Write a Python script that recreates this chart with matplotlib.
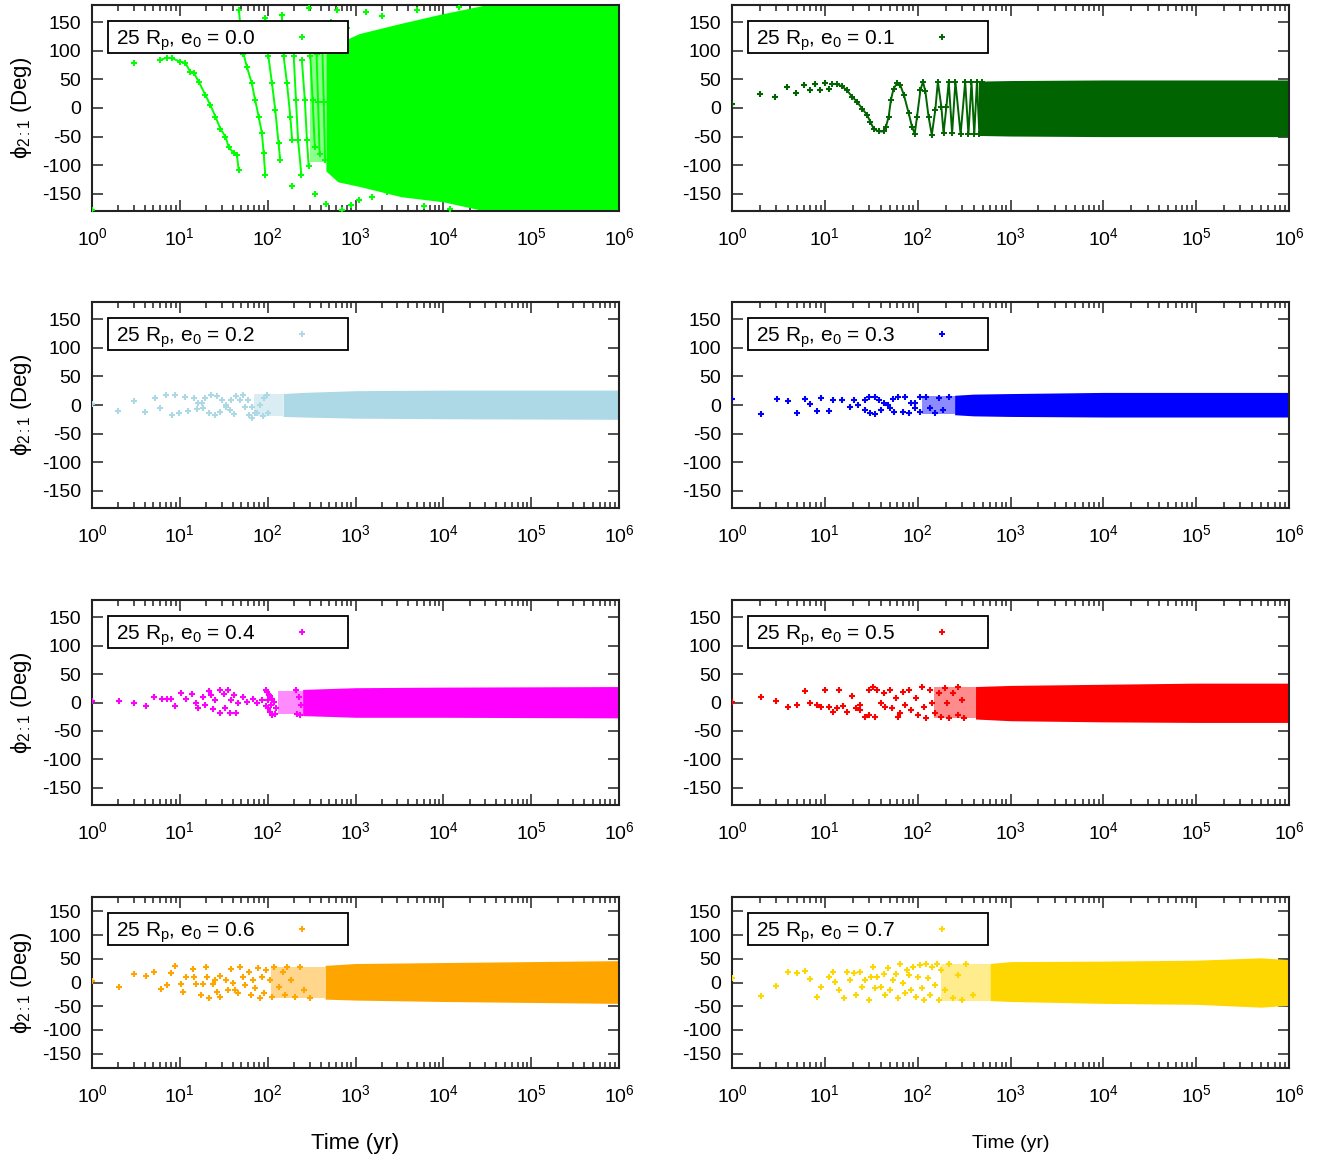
import numpy as np
import matplotlib
matplotlib.use('Agg')
import matplotlib.pyplot as plt
from matplotlib.ticker import LogLocator, NullFormatter, FixedLocator, FuncFormatter
from matplotlib.patches import Rectangle

plt.rcParams['font.family'] = ['Liberation Sans', 'DejaVu Sans']
plt.rcParams['mathtext.fontset'] = 'custom'
plt.rcParams['mathtext.rm'] = 'Liberation Sans'
plt.rcParams['mathtext.it'] = 'Liberation Sans'
plt.rcParams['mathtext.sf'] = 'Liberation Sans'
plt.rcParams['axes.unicode_minus'] = False

## ---- data ----
ecc = ['0.0', '0.1', '0.2', '0.3', '0.4', '0.5', '0.6', '0.7']
colors = ['#00ff00', '#006400', '#add8e6', '#0000ff',
          '#ff00ff', '#ff0000', '#ffa500', '#ffd700']
xticks = [1, 10, 100, 1e3, 1e4, 1e5, 1e6]
yticks = [-150, -100, -50, 0, 50, 100, 150]

# e0 = 0.0 : circulating
e00_t = [1, 3, 145, 294, 616, 1300, 190, 457, 700, 1085, 1540, 2270,
         800, 2000, 5000, 6000, 15000, 12000, 520, 350, 900]
e00_phi = [-178, 78, 162, 174, 171, 168, -137, -167, -178, -161, -155, -146,
           140, 160, 172, -172, 177, -176, 150, -150, -170]
e00_tracks_t = [[6, 7.1, 8.1, 10.1, 11.5, 13.2, 14.4, 16.4, 19.5, 22.3, 25.4, 28.9, 33, 36, 41, 44.6, 46.8],
                [47, 50, 53, 58, 66, 72, 79, 86, 90, 94],
                [94, 102, 112, 122, 133, 139],
                [145, 152, 166, 181, 190],
                [198, 210, 222, 242],
                [245, 265, 280, 293],
                [306, 325, 344],
                [360, 375, 390],
                [420, 435, 450]]
e00_tracks_phi = [[84, 88, 87, 81, 79, 63, 62, 46, 23, 5, -15, -36, -50, -68, -79, -82, -108],
                  [171, 130, 95, 72, 43, 14, -15, -44, -79, -117],
                  [157, 90, 43, -3, -62, -91],
                  [162, 90, 43, -15, -56],
                  [90, 14, -56, -117],
                  [84, 14, -56, -102],
                  [90, 14, -68],
                  [95, 10, -80],
                  [100, 10, -90]]
e00_band_t = [460, 630, 1100, 3300, 1e4, 3e4, 1e6]
e00_band_hi = [95, 113, 130, 148, 165, 180, 180]
e00_band_lo = [-110, -129, -137, -155, -164, -180, -180]
e00_mesh_t = [300, 460]
e00_mesh_amp = 95

# e0 = 0.1
e01_t = [1, 2.02, 2.93, 3.91, 4.94, 5.9, 6.9, 7.9, 8.9, 10.1, 11]
e01_phi = [7, 24.5, 18.6, 36, 27, 41, 31, 42, 31, 44, 33]
e01_tracks_t = [[11.9, 13.5, 15.3, 17.3, 19.6, 22.2, 25.2, 28.5, 30.9, 33.5, 38, 43, 45.5, 48.7,
                 51.5, 55, 60, 65, 71, 80, 87, 93, 98.5, 107, 114, 121, 131, 142, 155, 165,
                 180, 190, 204, 216, 235, 255, 290, 325, 352, 380, 407, 435, 462, 490]]
e01_tracks_phi = [[42, 42, 38, 31, 20, 11, -1, -12, -24, -36, -41, -41, -33, -15,
                   14, 34, 43, 40, 23, -9, -33, -45, -15, 31, 46, 29, -15, -47, -3, 46,
                   2, -44, 2, 46, -44, 46, -46, 46, -46, 46, -46, 46, -46, 46]]
e01_band_t = [450, 1000, 1e4, 1e6]
e01_band_hi = [47, 48, 49, 49]
e01_band_lo = [-48, -49, -50, -50]
e01_mesh_t = []
e01_mesh_amp = 0

# e0 = 0.2
e02_t = [1, 1.99, 3.0, 4.06, 5.2, 6.0, 7.0, 8.85, 8.1, 9.8, 11.5, 12.4, 14.4, 15.5, 18.1,
         16.2, 19.2, 22.7, 26.8, 29.9, 33.3, 37.3, 41.6, 18.2, 21.4, 25.3, 29, 33.3, 38.5, 44,
         49, 55, 61.6, 67, 72.6, 81, 90.6, 98, 52, 60, 67, 76, 88, 101]
e02_phi = [1, -10.5, 7.6, -11.6, 13, -5.8, 17.5, 17.5, -17.5, -14.6, 14.6, -10, 11.6, -7.6, 3,
           3, 11.6, 17.5, 15.7, 8.7, 0, -8.7, -15.7, -5.8, -13.4, -17.5, -11.6, -2.9, 8.7, 15.7,
           8.7, -4, -17.5, -23, -14.6, 0, 11.6, 17.5, 17.5, 8.7, -3, -13.4, -20, -14.6]
e02_band_t = [150, 250, 1000, 1e4, 1e6]
e02_band_hi = [20, 22, 25, 26, 26]
e02_band_lo = [-20, -21, -23, -24, -25]
e02_mesh_t = [70, 150]
e02_mesh_amp = 19

# e0 = 0.3
e03_t = [1, 2.03, 3.02, 4.0, 5.06, 6.1, 7.0, 8.2, 9.1, 11.1, 12.1, 15.4, 18.5, 20.5, 22.8,
         26.8, 29.6, 34.8, 38.7, 43, 50.4, 55.7, 26.8, 30.3, 34.8, 40.7, 47.7, 54.6, 62,
         72.8, 85.1, 94.7, 105, 69, 81, 94.7, 107, 123, 137, 152, 169, 188, 219]
e03_phi = [10, -15.7, 10, 6.4, -14.6, 11, 1.7, -10, 11.6, -10, 8.7, 8.7, -3, 8.7, 0,
           8.7, 13.4, 13.4, 8.7, 3, -5.8, -11.6, -8.7, -14.6, -15.7, -8.7, 0, 10, 14.6,
           13.4, 3, -5.8, -11.6, -11.6, -14.6, 3, 13.4, 14.6, -5.8, -14.6, 11.6, -8.7, 14.6]
e03_band_t = [250, 400, 1000, 1e4, 1e6]
e03_band_hi = [17, 19, 20, 22, 22]
e03_band_lo = [-17, -19, -20, -21, -21]
e03_mesh_t = [110, 250]
e03_mesh_amp = 15

# e0 = 0.4
e04_t = [1, 2.03, 3.02, 4.08, 5.1, 6.2, 7.1, 7.9, 8.8, 10.2, 11.7, 13.8, 15.4, 16.2, 18.2,
         19.2, 21.4, 22.7, 24, 25.3, 28.3, 28.3, 31.6, 32.3, 35.3, 37.3, 38.5, 41.6, 44, 46.5,
         51.9, 58, 68.6, 76.6, 85.5, 96, 98, 103, 107, 113, 119, 126, 122, 113, 107, 100, 96,
         102, 110, 210, 225, 240, 215, 235]
e04_phi = [3, 2, -1.5, -7, 9, 5.5, 6, 7, -6, 17, 7, 15, -1.5, -10, 10,
           -4, 21, 13, -12, 4, 22, -19, 15, -10, 22, -19, 4, 13, -19, -1.5,
           10, 1.5, 7, -1.5, 4, 22, 18, 14, 11, 6, 1.5, -10, -20, -22, -16, -10, -7,
           5, -5, 22, 10, -5, -20, -22]
e04_band_t = [250, 400, 1000, 1e4, 1e6]
e04_band_hi = [23, 24, 26, 27, 28]
e04_band_lo = [-23, -24, -26, -26, -27]
e04_mesh_t = [130, 250]
e04_mesh_amp = 21

# e0 = 0.5
e05_t = [1, 2.03, 3.0, 4.0, 5.06, 6.1, 7.0, 8.2, 9.1, 10.1, 11.1, 12.1, 14.2, 13.5, 15.8,
         17.5, 19.5, 21.7, 24, 24, 26.8, 29.6, 29.6, 33, 34.8, 36.6, 40.7, 43, 45, 50.4,
         53, 59, 62, 65, 69, 73, 81, 85, 95, 100, 111, 117, 123, 137, 144, 152, 169, 178,
         197, 208, 219, 243, 270, 270, 300, 316]
e05_phi = [1.5, 10, 2.6, -8.4, -4.4, 20.7, -1.5, -4.4, -7.3, 21.8, -8.4, -16, 21.8, -10, -6,
           -16, 11.4, -10, -13, -4.4, -24.7, 21.8, -21.8, 27.7, -24.7, 21.8, -1.5, 16, -7.3, 21.8,
           -10, 7.3, -24.7, -19, 19, -4.4, 21.8, -13, 7.3, -21.8, 27.7, -7.3, -27.7, 21.8, -1.5,
           -19, 16, -24.7, 24.7, -1.5, -27.7, 16, 27.7, -21.8, 4.4, -27.7]
e05_band_t = [420, 1000, 1e4, 1e5, 1e6]
e05_band_hi = [28, 30, 32, 34, 34]
e05_band_lo = [-29, -32, -34, -35, -35]
e05_mesh_t = [150, 420]
e05_mesh_amp = 27

# e0 = 0.6
e06_t = [1, 2.03, 3.0, 4.1, 5.1, 6.1, 7.1, 7.9, 8.85, 10.2, 11, 11.7, 14.1, 14.6, 15.4,
         17.2, 18.2, 19.9, 20.3, 21.4, 24, 25.3, 26.7, 28.3, 29, 33.3, 35.3, 38.5, 40, 43,
         46.5, 49, 52, 55, 61.6, 65, 68.6, 72.6, 78.4, 81, 85.5, 90.6, 96, 107, 113, 119,
         133, 149, 157, 167, 186, 207, 232, 258, 305]
e06_phi = [4, -10, 18, 14, 22, -14, -5, 19, 35, -3, -19, 11, 28, 11, -3,
           -26, -3, 33, 11, -33, -3, 5, -19, 14, -30, 5, -16, 28, -2, -16,
           -23, 32, 11, -5, 23, -26, 5, -12, 30, -33, 12, -23, 26, 5, -30, 33,
           -9, 23, -26, 33, 5, -30, 32, -16, -33]
e06_band_t = [450, 1000, 1e4, 1e5, 1e6]
e06_band_hi = [36, 40, 42, 44, 46]
e06_band_lo = [-35, -37, -40, -42, -44]
e06_mesh_t = [110, 450]
e06_mesh_amp = 33

# e0 = 0.7
e07_t = [1, 2.03, 3.0, 4.0, 5.06, 6.1, 7.0, 8.2, 9.1, 11.1, 12.1, 12.8, 14.2, 16.1, 17.5,
         18.5, 20.5, 21.7, 24, 25.4, 26.8, 29.6, 31.2, 33, 34.8, 36.6, 40.7, 43, 45, 47.7,
         50.4, 54.6, 59, 62, 65, 69, 73, 76.6, 81, 85, 90, 95, 100, 105, 111, 117, 123,
         130, 137, 144, 152, 160, 169, 178, 197, 219, 243, 270, 300, 335, 392]
e07_phi = [9.5, -28, -7, 22, 19, 24, 8, -30, -10, 12, 23, 2, -16, -33, 23,
           5, 19, -26, 23, -9, 5, -37, 12, 32, -12, 12, -10, 18, -26, 30,
           -16, 5, 18, -33, 40, -2, -23, 26, 16, -16, 33, -30, 12, 37, -12, -37, 40,
           9, -26, 33, -5, 40, -37, 26, -16, 40, -33, 16, -37, 40, -26]
e07_band_t = [600, 1000, 1e4, 1e5, 5e5, 1e6]
e07_band_hi = [40, 44, 45, 47, 52, 48]
e07_band_lo = [-38, -40, -44, -46, -52, -48]
e07_mesh_t = [180, 600]
e07_mesh_amp = 38

pts_t = [e00_t, e01_t, e02_t, e03_t, e04_t, e05_t, e06_t, e07_t]
pts_phi = [e00_phi, e01_phi, e02_phi, e03_phi, e04_phi, e05_phi, e06_phi, e07_phi]
tracks_t = [e00_tracks_t, e01_tracks_t, [], [], [], [], [], []]
tracks_phi = [e00_tracks_phi, e01_tracks_phi, [], [], [], [], [], []]
band_t = [e00_band_t, e01_band_t, e02_band_t, e03_band_t, e04_band_t, e05_band_t, e06_band_t, e07_band_t]
band_hi = [e00_band_hi, e01_band_hi, e02_band_hi, e03_band_hi, e04_band_hi, e05_band_hi, e06_band_hi, e07_band_hi]
band_lo = [e00_band_lo, e01_band_lo, e02_band_lo, e03_band_lo, e04_band_lo, e05_band_lo, e06_band_lo, e07_band_lo]
mesh_t = [e00_mesh_t, e01_mesh_t, e02_mesh_t, e03_mesh_t, e04_mesh_t, e05_mesh_t, e06_mesh_t, e07_mesh_t]
mesh_amp = [e00_mesh_amp, e01_mesh_amp, e02_mesh_amp, e03_mesh_amp, e04_mesh_amp, e05_mesh_amp, e06_mesh_amp, e07_mesh_amp]

## ---- layout (pixels of the 1326x1160 canvas) ----
W, H = 1326, 1160
cols = [(92, 619), (732, 1289)]
rows = [(5, 211), (302, 508), (600, 805), (897, 1068)]

fig = plt.figure(figsize=(W / 100, H / 100), dpi=100)

for i in range(8):
    r, c = i // 2, i % 2
    x0, x1 = cols[c]
    y0, y1 = rows[r]
    ax = fig.add_axes([x0 / W, 1 - y1 / H, (x1 - x0) / W, (y1 - y0) / H])
    col = colors[i]

    # dense part: solid band, the semi dense mesh before it drawn lighter
    if len(mesh_t[i]):
        ax.fill_between(mesh_t[i], -mesh_amp[i], mesh_amp[i], color=col, alpha=0.45, lw=0, zorder=2)
    ax.fill_between(band_t[i], band_lo[i], band_hi[i], color=col, lw=0, zorder=2)
    for tt, pp in zip(tracks_t[i], tracks_phi[i]):
        ax.plot(tt, pp, '-', color=col, lw=1.4, marker='+', ms=4.5, mew=1.4, zorder=3)
    ax.plot(pts_t[i], pts_phi[i], '+', color=col, ms=5, mew=1.5, ls='none', zorder=3)

    ax.set_xscale('log')
    ax.set_xlim(1, 1e6)
    ax.set_ylim(-180, 180)
    ax.xaxis.set_major_locator(FixedLocator(xticks))
    ax.xaxis.set_major_formatter(FuncFormatter(lambda v, p: r'$10^{%d}$' % round(np.log10(v))))
    ax.xaxis.set_minor_locator(LogLocator(base=10, subs=np.arange(2, 10), numticks=100))
    ax.xaxis.set_minor_formatter(NullFormatter())
    ax.yaxis.set_major_locator(FixedLocator(yticks))
    ax.tick_params(which='both', direction='in', top=True, right=True, width=1.1, color='#222222')
    ax.tick_params(which='major', length=8, labelsize=14)
    ax.tick_params(which='minor', length=4.5)
    ax.tick_params(axis='x', which='major', pad=12)
    ax.tick_params(axis='y', which='major', pad=8)
    for s in ax.spines.values():
        s.set_linewidth(1.5)
        s.set_color('#222222')

    # key box (gnuplot style, opaque)
    aw, ah = x1 - x0, y1 - y0
    ax.add_patch(Rectangle((16 / aw, 1 - 48 / ah), 240 / aw, 32 / ah, transform=ax.transAxes,
                           facecolor='white', edgecolor='black', lw=1.3, zorder=5))
    ax.text(24 / aw, 1 - 40 / ah, r'25 R$_\mathrm{p}$, e$_\mathrm{0}$ = ' + ecc[i],
            transform=ax.transAxes, fontsize=15, va='baseline', ha='left', zorder=6)
    ax.plot([210 / aw], [1 - 32 / ah], '+', color=col, ms=4.5, mew=1.4,
            transform=ax.transAxes, zorder=6, clip_on=False)

    if c == 0:
        fig.text(21 / W, 1 - (y0 + y1) / 2 / H, r'$\phi_{\mathrm{2:1}}$ (Deg)', rotation=90,
                 ha='center', va='center', fontsize=16)

fig.text(355.5 / W, 1 - 1143 / H, 'Time (yr)', ha='center', va='center', fontsize=16)
fig.text(1010.5 / W, 1 - 1143 / H, 'Time (yr)', ha='center', va='center', fontsize=14)

fig.savefig('out.png', dpi=100)
